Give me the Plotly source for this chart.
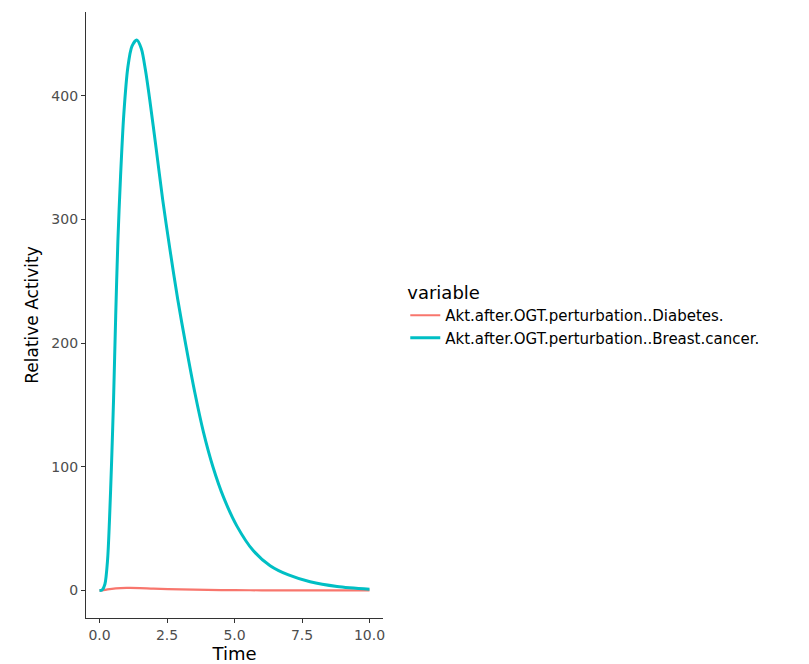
import plotly.graph_objects as go

# Data
time_bc = [0.0, 0.1, 0.2, 0.3, 0.37, 0.45, 0.52, 0.6, 0.68, 0.78, 0.9, 1.05, 1.2, 1.38,
           1.55, 1.7, 1.86, 2.1, 2.34, 2.6, 2.9, 3.2, 3.53, 3.85, 4.2, 4.6, 5.09, 5.7,
           6.32, 7.0, 7.8, 8.8, 10.0]
breast_cancer = [0, 0.5, 5, 25, 57, 105, 154, 222, 282, 335, 385, 423, 440, 445,
                 438, 421, 397, 357, 316, 277, 235, 198, 160, 128, 100, 75, 52, 32,
                 20, 12.5, 7, 3.2, 1]

time_db = [0.0, 0.1, 0.3, 0.6, 1.0, 1.5, 2.0, 3.0, 4.0, 5.0, 6.0, 8.0, 10.0]
diabetes = [0, 0, 0.8, 1.6, 2.0, 1.9, 1.4, 0.8, 0.4, 0.2, 0.1, 0.05, 0.0]

names = ["Akt.after.OGT.perturbation..Diabetes.", "Akt.after.OGT.perturbation..Breast.cancer."]
colors = ["#F8766D", "#00BFC4"]

x_ticks = [0.0, 2.5, 5.0, 7.5, 10.0]
y_ticks = [0, 100, 200, 300, 400]

FONT = "DejaVu Sans, Liberation Sans, Arial"

fig = go.Figure()
fig.add_trace(go.Scatter(x=time_db, y=diabetes, mode="lines", name=names[0],
                         line=dict(color=colors[0], width=2.2, shape="spline", smoothing=0.8)))
fig.add_trace(go.Scatter(x=time_bc, y=breast_cancer, mode="lines", name=names[1],
                         line=dict(color=colors[1], width=3, shape="spline", smoothing=0.8)))

axis_common = dict(showline=True, linecolor="#333333", linewidth=1.2, ticks="outside",
                   ticklen=4, tickcolor="#333333", showgrid=False, zeroline=False,
                   automargin=False,
                   tickfont=dict(family=FONT, size=14, color="#4D4D4D"))

fig.update_layout(
    width=809, height=664,
    margin=dict(l=86, r=426, t=12, b=46),
    paper_bgcolor="white", plot_bgcolor="white",
    font=dict(family=FONT, color="black"),
    xaxis=dict(range=[-0.5, 10.5], tickvals=x_ticks, ticktext=[f"{v:.1f}" for v in x_ticks],
               title=dict(text="Time", font=dict(size=18), standoff=2), **axis_common),
    yaxis=dict(range=[-22.3, 467.7], tickvals=y_ticks, ticktext=[str(v) for v in y_ticks],
               title=dict(text="Relative Activity", font=dict(size=17), standoff=8), **axis_common),
    legend=dict(x=1.075, y=0.565, xanchor="left", yanchor="top",
                title=dict(text="variable", font=dict(size=18)),
                font=dict(size=15), tracegroupgap=0, itemwidth=30),
    showlegend=True,
)

fig.write_html("out.html")
